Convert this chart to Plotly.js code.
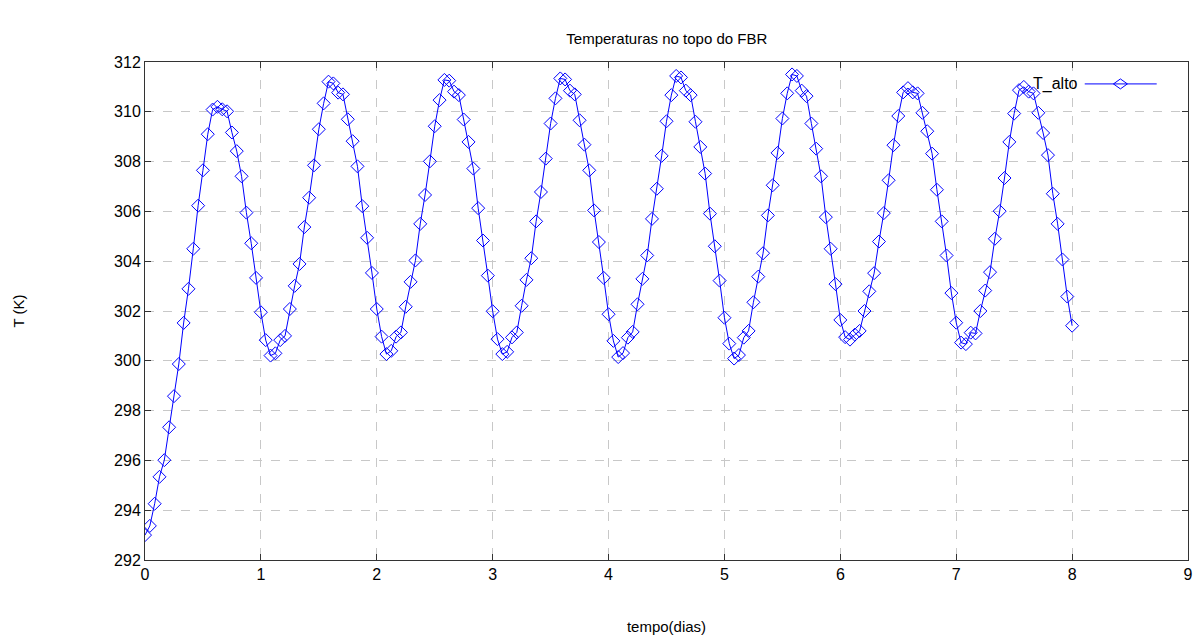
<!DOCTYPE html>
<html>
<head>
<meta charset="utf-8">
<script src="https://cdn.plot.ly/plotly-3.0.1.min.js"></script>
<style>html,body{margin:0;padding:0;background:#fff;}#chart{width:1195px;height:639px;}</style>
</head>
<body>
<div id="chart"></div>
<script>
// time in hours (converted to days for plotting)
var tempo_horas = [
  0,1,2,3,4,5,6,7,8,9,10,11,12,13,14,15,16,17,18,19,20,21,22,23,
  24,25,26,27,28,29,30,31,32,33,34,35,36,37,38,39,40,41,42,43,44,45,46,47,
  48,49,50,51,52,53,54,55,56,57,58,59,60,61,62,63,64,65,66,67,68,69,70,71,
  72,73,74,75,76,77,78,79,80,81,82,83,84,85,86,87,88,89,90,91,92,93,94,95,
  96,97,98,99,100,101,102,103,104,105,106,107,108,109,110,111,112,113,114,115,116,117,118,119,
  120,121,122,123,124,125,126,127,128,129,130,131,132,133,134,135,136,137,138,139,140,141,142,143,
  144,145,146,147,148,149,150,151,152,153,154,155,156,157,158,159,160,161,162,163,164,165,166,167,
  168,169,170,171,172,173,174,175,176,177,178,179,180,181,182,183,184,185,186,187,188,189,190,191,
  192
];
var T_alto = [
  293.00,293.37,294.26,295.34,296.01,297.33,298.58,299.87,301.52,302.89,304.50,306.23,307.65,309.10,310.09,310.20,310.10,310.02,309.17,308.42,307.41,305.95,304.72,303.33,
  301.95,300.83,300.21,300.30,300.83,301.00,302.08,303.01,303.89,305.37,306.55,307.85,309.30,310.34,311.21,311.14,310.77,310.70,309.70,308.82,307.81,306.21,304.94,303.53,
  302.08,300.97,300.27,300.40,300.97,301.14,302.17,303.17,304.03,305.50,306.66,308.01,309.42,310.47,311.28,311.25,310.81,310.67,309.69,308.79,307.72,306.13,304.83,303.42,
  301.99,300.87,300.27,300.36,300.94,301.14,302.21,303.25,304.12,305.60,306.78,308.12,309.53,310.54,311.34,311.30,310.85,310.70,309.66,308.68,307.65,306.04,304.77,303.33,
  301.87,300.80,300.15,300.31,300.93,301.16,302.27,303.29,304.23,305.70,306.91,308.23,309.62,310.67,311.44,311.38,310.85,310.67,309.60,308.59,307.52,305.91,304.60,303.22,
  301.73,300.69,300.09,300.23,300.93,301.20,302.35,303.38,304.32,305.84,307.05,308.35,309.73,310.74,311.50,311.44,310.85,310.63,309.53,308.52,307.41,305.77,304.50,303.08,
  301.64,300.95,300.85,301.05,301.20,302.00,302.79,303.52,304.79,305.93,307.25,308.66,309.83,310.78,310.95,310.78,310.74,309.96,309.22,308.32,306.87,305.60,304.23,302.72,
  301.53,300.73,300.67,301.13,301.10,302.00,302.82,303.56,304.90,306.01,307.34,308.79,309.93,310.87,311.00,310.81,310.74,309.96,309.15,308.26,306.71,305.50,304.07,302.58,
  301.41
];
var nomeSerie = "T_alto";
var xTicks = [0,1,2,3,4,5,6,7,8,9];
var yTicks = [292,294,296,298,300,302,304,306,308,310,312];

var tempo_dias = tempo_horas.map(function(h){ return h / 24; });
var blue = "#0000ff";
var font = "Liberation Sans, Arial, Helvetica, sans-serif";

var trace = {
  x: tempo_dias, y: T_alto, name: nomeSerie,
  type: "scatter", mode: "lines+markers",
  line: {color: blue, width: 1},
  marker: {symbol: "diamond-open", size: 10, color: blue, line: {width: 1, color: blue}},
  showlegend: false
};

var layout = {
  width: 1195, height: 639,
  margin: {l: 145, r: 7, t: 62, b: 79},
  paper_bgcolor: "#fff", plot_bgcolor: "#fff",
  font: {family: font, size: 16, color: "#000"},
  title: {text: "Temperaturas no topo do FBR", font: {family: font, size: 15, color: "#000"},
          x: 0.558, xanchor: "center", y: 0.94, yanchor: "middle"},
  xaxis: {
    range: [0, 9], tickvals: xTicks, ticktext: xTicks.map(String),
    ticks: "inside", ticklen: 6, tickcolor: "#333", tickfont: {size: 16},
    showgrid: true, gridcolor: "#c8c8c8", griddash: "dash", gridwidth: 1,
    showline: true, linecolor: "#333", linewidth: 1, mirror: "ticks",
    zeroline: false, fixedrange: true,
    title: {text: "tempo(dias)", font: {size: 15}, standoff: 39}
  },
  yaxis: {
    range: [292, 312], tickvals: yTicks, ticktext: yTicks.map(String),
    ticks: "inside", ticklen: 6, tickcolor: "#333", tickfont: {size: 16},
    showgrid: true, gridcolor: "#c8c8c8", griddash: "dash", gridwidth: 1,
    showline: true, linecolor: "#333", linewidth: 1, mirror: "ticks",
    zeroline: false, fixedrange: true,
    title: {text: "T (K)", font: {size: 15}, standoff: 85}
  },
  annotations: [
    {xref: "paper", yref: "paper", x: 0.896, y: 0.956, xanchor: "right", yanchor: "middle",
     text: nomeSerie, showarrow: false, font: {size: 16, color: "#000"}}
  ],
  shapes: [
    {type: "line", xref: "paper", yref: "paper", x0: 0.901, x1: 0.970, y0: 0.956, y1: 0.956,
     line: {color: blue, width: 1}},
    {type: "path", xref: "paper", yref: "paper",
     path: "M 0.9285 0.956 L 0.9352 0.966 L 0.9419 0.956 L 0.9352 0.946 Z",
     line: {color: blue, width: 1}}
  ]
};

Plotly.newPlot("chart", [trace], layout, {displayModeBar: false, staticPlot: true});
</script>
</body>
</html>
